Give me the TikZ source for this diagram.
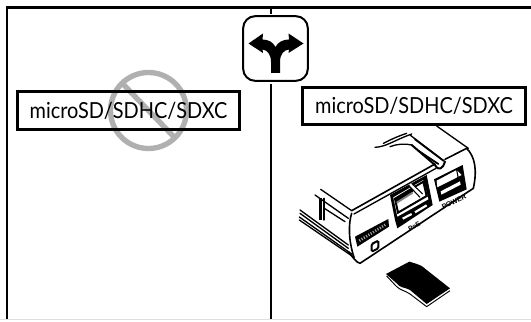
\documentclass[tikz,border=0pt]{standalone}
\usepackage{fontspec}
\setmainfont{Lato}
\newfontfamily\labelfont[FakeStretch=0.9]{Lato}
\setsansfont{Liberation Sans}
\tikzset{
  frameline/.style={line width=2.1pt,black},
  labelbox/.style={draw=black,line width=2.1pt,inner sep=0pt,font=\labelfont\fontsize{16.6}{18}\selectfont},
  dev/.style={line width=1pt,black,line join=round,line cap=round},
  noentry/.style={draw=gray!62!white,line width=4pt},
}
\begin{document}
\begin{tikzpicture}[x=0.75pt,y=-0.75pt]
\useasboundingbox (0,0) rectangle (531,321);
\fill[white] (0,0) rectangle (531,321);
\draw[gray!25,line width=0.6pt] (0,319.5) -- (531,319.5);
% frame
\coordinate (tl) at (7,7.5);
\coordinate (tr) at (531,7.5);
\coordinate (bl) at (7,319);
\coordinate (dt) at (271,8);
\coordinate (db) at (271,319);
\draw[frameline] (bl) -- (tl) -- (tr);
\draw[frameline] (dt) -- (db);
% icon
\fill[white] (240,14) rectangle (311,84);
\node[draw=black,line width=1.5pt,fill=white,rounded corners=9pt,minimum width=48.5pt,minimum height=48.5pt,inner sep=0pt] (icon) at (275.5,48.5) {};
\fill[black] (271,73) -- (271,62) .. controls (271,54) and (267,50) .. (262.5,49.5)
  -- (263,53) -- (248.5,43.5) -- (263,33.5) -- (262.5,39.5)
  .. controls (268,39.5) and (273,42) .. (275.5,47)
  .. controls (278,42) and (283,39.5) .. (289,39.5)
  -- (288.5,33.5) -- (303.5,43.5) -- (288.5,53) -- (289,49.5)
  .. controls (284,50) and (280,54) .. (280,62) -- (280,73) -- cycle;
% prohibition under the label text
\draw[noentry] (148.5,110.5) circle (38);
\draw[noentry] (122,83) -- (175,138);
% left label
\node[labelbox,minimum width=167pt,minimum height=28pt] (lbl) at (128.5,110.5) {microSD/SDHC/SDXC};
% right label
\node[labelbox,minimum width=167pt,minimum height=28pt] (rbl) at (414,106) {microSD/SDHC/SDXC};
% device
\begin{scope}[shift={(280,120)},x=0.25pt,y=-0.25pt]
 % body top lines
 \draw[dev] (470,18) -- (565,85);
 \draw[dev,line width=1.2pt] (215,272) -- (465,132);
 \draw[dev] (222,282) -- (468,145);
 \draw[dev,line width=1.2pt] (495,118) -- (560,85) .. controls (585,110) and (592,150) .. (580,205)
   -- (240,430) .. controls (228,428) and (218,410) .. (205,395);
 \draw[dev,line width=1.2pt] (215,280) .. controls (205,310) and (205,360) .. (222,412);
 % back rail lines
 \draw[dev] (122,208) -- (215,272);
 \draw[dev] (105,225) -- (205,295);
 \draw[dev] (133,265) -- (195,305);
 \draw[dev] (60,270) -- (205,375);
 \draw[dev] (60,280) -- (205,385);
 \draw[dev] (58,291) -- (215,402);
 \draw[dev] (58,300) -- (222,412);
 \draw[black,line width=2.4pt] (122,235) -- (122,300);
 \draw[dev] (132,235) -- (132,300);
 % cable
 \draw[dev] (285,82) .. controls (320,80) and (340,62) .. (395,42);
 \draw[dev] (310,70) .. controls (330,60) and (350,50) .. (380,40);
 \draw[dev] (330,80) .. controls (350,72) and (375,70) .. (395,75);
 % strap
 \draw[dev] (390,45) -- (495,125);
 \draw[dev,line width=1.3pt] (405,58) -- (490,122);
 \draw[dev,line width=1.5pt] (395,75) -- (465,135) .. controls (475,155) and (490,145) .. (495,125);
 \draw[dev,line width=1.3pt] (415,92) -- (475,132);
 % micro SD slot
 \fill[black] (225,350) -- (325,297) -- (327,320) -- (232,380) -- cycle;
 \draw[gray!70,line width=2pt,dash pattern=on 0.8pt off 1.2pt] (238,362) -- (318,313);
 % card symbol
 \draw[black,line width=1.5pt,fill=white,rounded corners=1pt] (275,372) -- (295,362) -- (295,385) -- (275,395) -- cycle;
 % PoE port
 \fill[black] (330,225) -- (440,165) -- (458,255) -- (352,325) -- (345,300) -- cycle;
 \fill[white] (340,232) -- (430,180) -- (445,238) -- (352,290) -- cycle;
 \draw[black,line width=1.5pt] (345,236) -- (430,185) -- (440,228) -- (354,278) -- cycle;
 \fill[black] (345,236) -- (398,205) -- (400,215) -- (350,247) -- cycle;
 \draw[gray,line width=1.4pt] (350,248) -- (398,218);
 \fill[white] (385,195) -- (395,190) -- (428,222) -- (420,232) -- cycle;
 \draw[black,line width=0.8pt] (385,195) -- (420,232) (395,190) -- (428,222);
 \draw[white,line width=1.6pt] (368,296) -- (395,282) (405,277) -- (440,256);
 \node[inner sep=0pt,rotate=30,font=\sffamily\bfseries\fontsize{5}{5}\selectfont] (poe) at (403,320) {PoE};
 % power port
 \fill[black] (462,178) -- (548,135) -- (560,208) -- (478,245) -- cycle;
 \fill[white] (470,182) -- (530,150) -- (545,165) -- (472,202) -- cycle;
 \draw[black,line width=0.8pt] (530,150) -- (540,200);
 \fill[white] (482,214) -- (540,184) -- (542,194) -- (484,224) -- cycle;
 \node[inner sep=0pt,rotate=26,font=\sffamily\bfseries\fontsize{5.2}{5.2}\selectfont] (pw) at (522,246) {POWER};
 % SD card
 \fill[black] (318,462) -- (388,425) .. controls (405,430) and (412,432) .. (425,438)
   -- (510,505) -- (440,552) -- (390,510) .. controls (370,500) and (362,505) .. (350,490) -- cycle;
 \draw[black,line width=0.7pt] (320,468) -- (348,498) .. controls (362,512) and (372,510) .. (390,522) -- (440,560) -- (510,512);
\end{scope}
\end{tikzpicture}
\end{document}
